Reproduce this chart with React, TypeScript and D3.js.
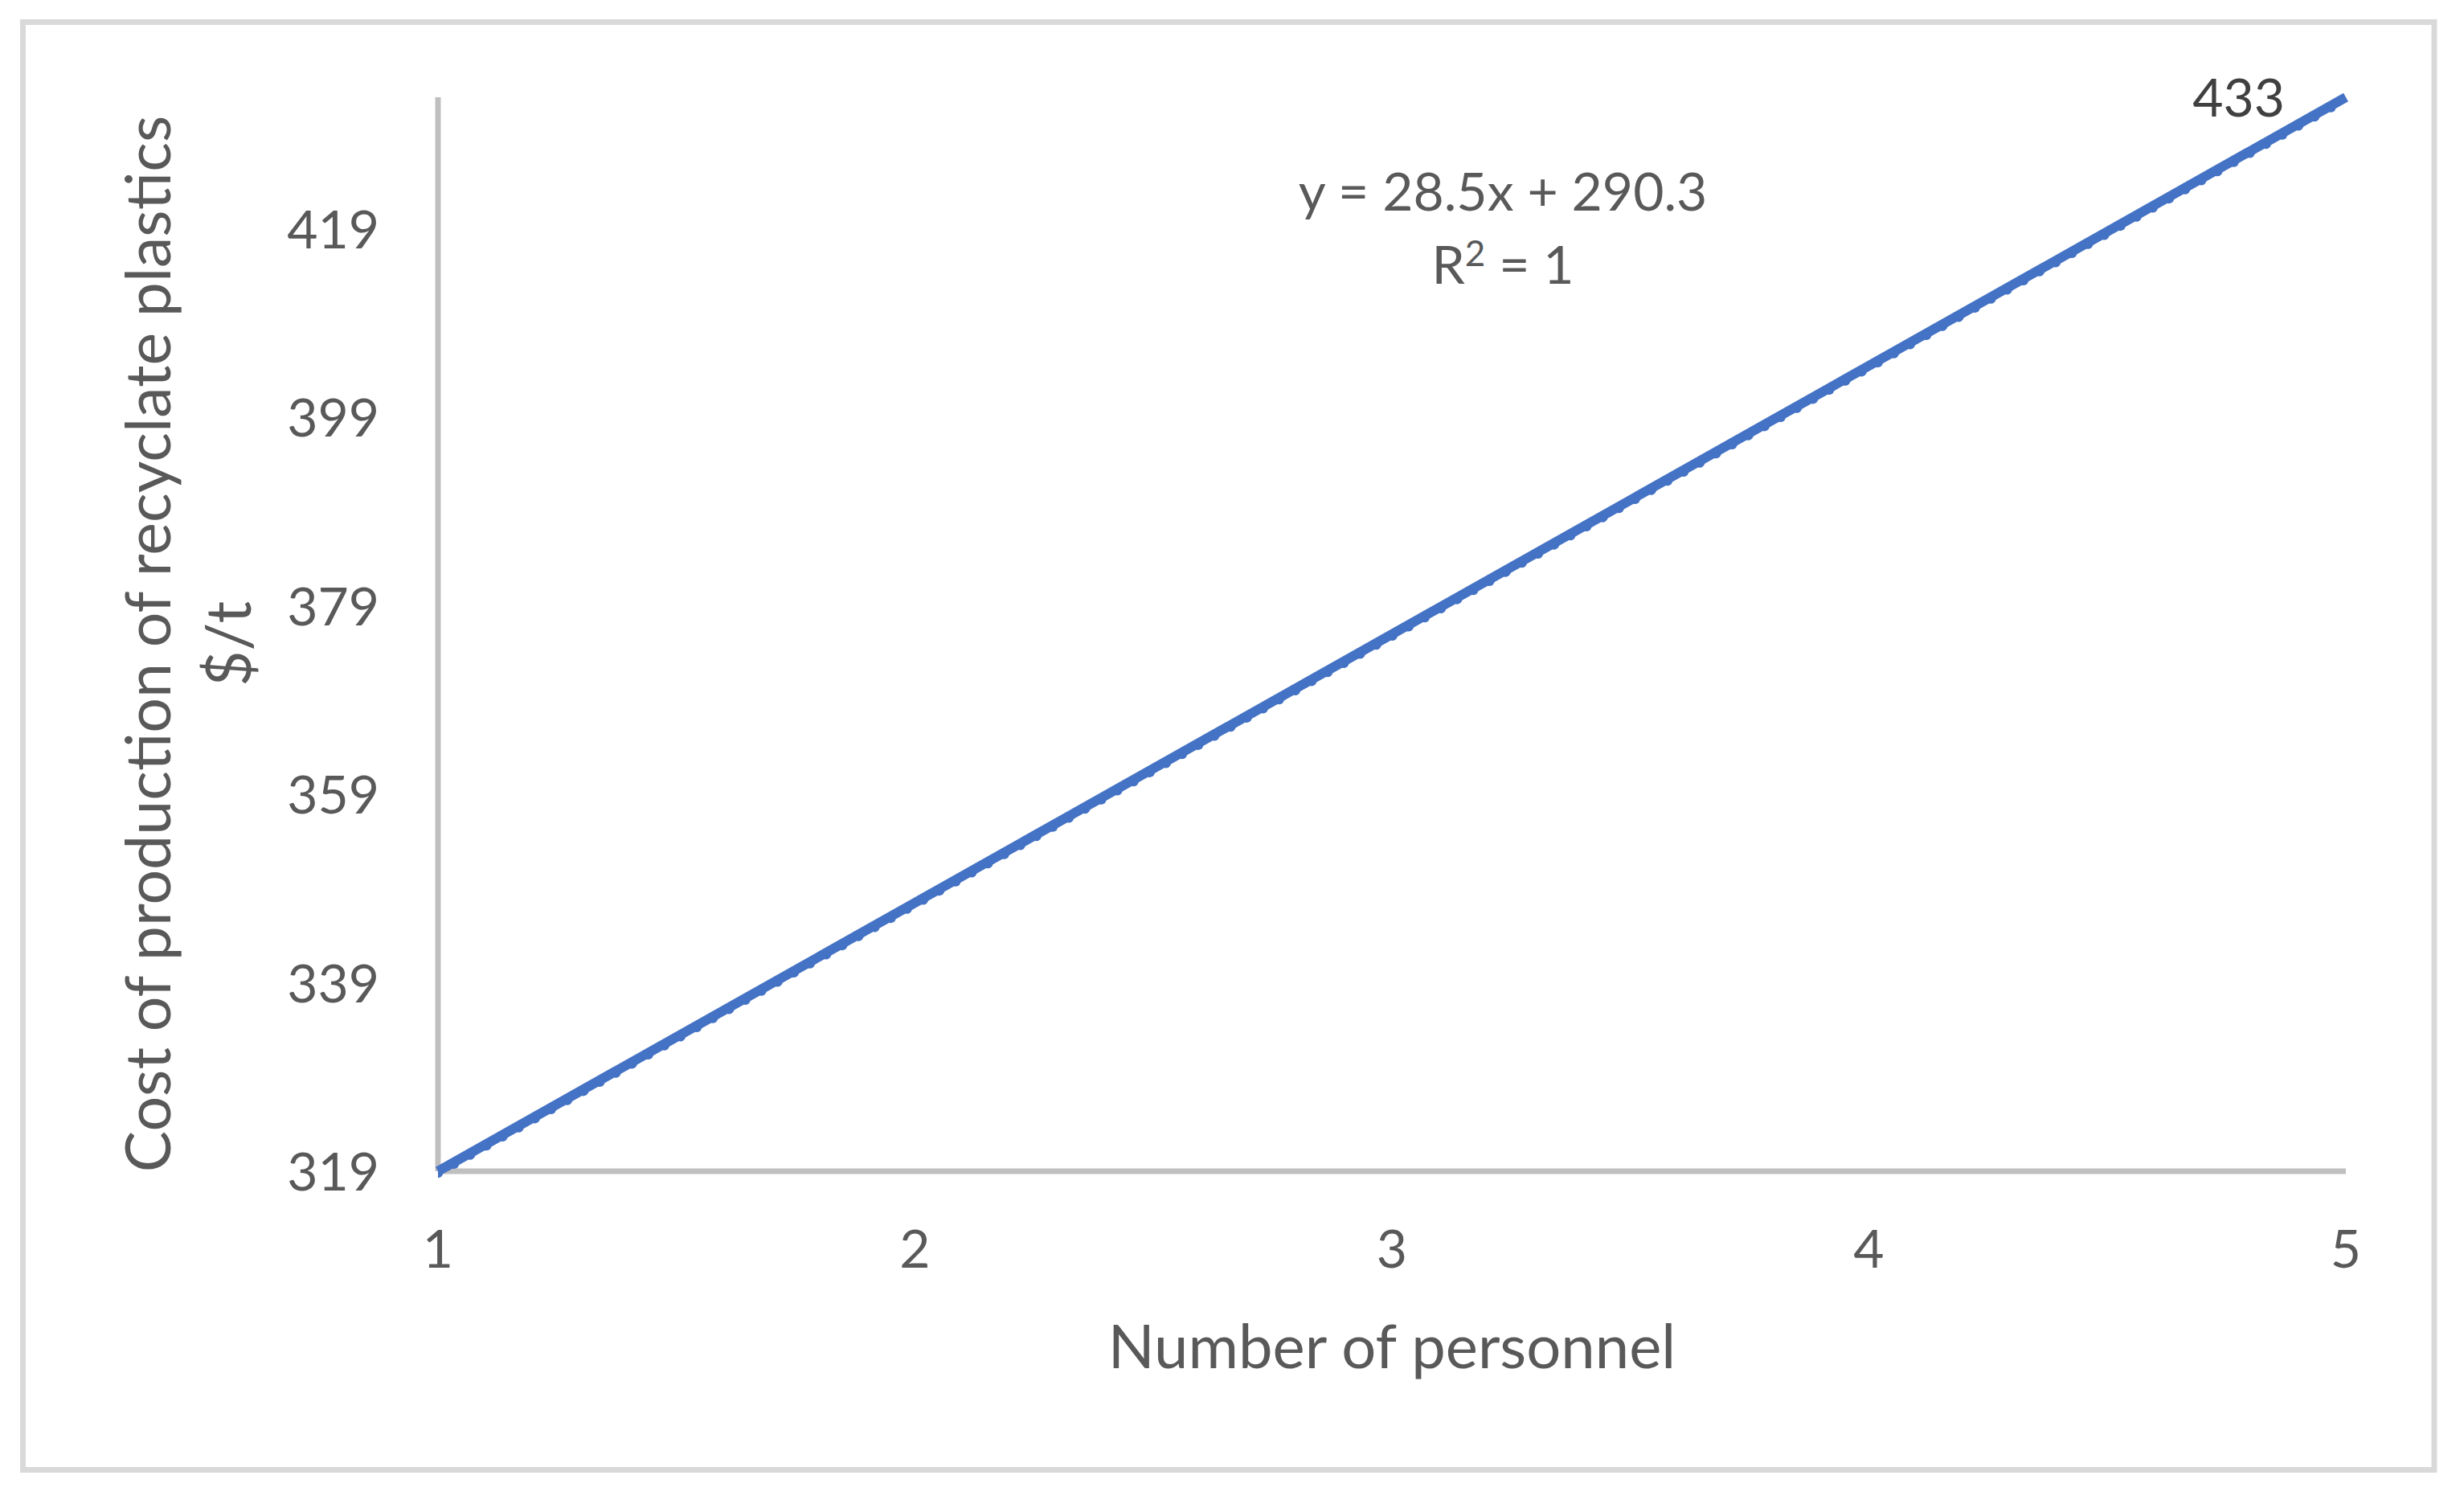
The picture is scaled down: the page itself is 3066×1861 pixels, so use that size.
import React from "react";
import * as d3 from "d3";

const xValues = [1, 2, 3, 4, 5];
const yValues = [319, 347.5, 376, 404.5, 433];
const yTicks = [319, 339, 359, 379, 399, 419];
const xTicks = [1, 2, 3, 4, 5];
const trendCoef = [28.5, 290.3];
const lastLabel = "433";
const equationText = "y = 28.5x + 290.3";
const r2Base = "R";
const r2Sup = "2";
const r2Rest = " = 1";
const yTitle1 = "Cost of production of recyclate plastics";
const yTitle2 = "$/t";
const xTitle = "Number of personnel";

const W = 3066;
const H = 1861;
const FONT = "Lato, 'Open Sans', sans-serif";

export default function App() {
  const x = d3.scaleLinear().domain([1, 5]).range([545, 2919]);
  const y = d3.scaleLinear().domain([319, 433]).range([1457, 121]);
  const pts = xValues.map((v, i) => [x(v), y(yValues[i])] as [number, number]);
  const line = d3.line();
  const trendPts = [1, 5].map((v) => [x(v), y(trendCoef[0] * v + trendCoef[1])] as [number, number]);
  const fmt = d3.format(".0f");
  const tickColor = "#595959";
  return (
    <svg width={W} height={H} style={{ position: "absolute", left: 0, top: 0, background: "#fff" }} fontFamily={FONT}>
      <rect x={0} y={0} width={W} height={H} fill="#fff" />
      <rect x={28.5} y={27.5} width={3029 - 28.5} height={1828.5 - 27.5} fill="#fff" stroke="#d9d9d9" strokeWidth={7} />
      {/* axes */}
      <line x1={x(1)} x2={x(1)} y1={y(433)} y2={y(319)} stroke="#bfbfbf" strokeWidth={7} />
      <line x1={x(1)} x2={x(5)} y1={y(319)} y2={y(319)} stroke="#bfbfbf" strokeWidth={7} />
      {/* y tick labels */}
      {yTicks.map((t) => (
        <text key={"y" + t} x={472} y={y(t) + 24} textAnchor="end" fontSize={66} fill={tickColor}>
          {fmt(t)}
        </text>
      ))}
      {xTicks.map((t) => (
        <text key={"x" + t} x={x(t)} y={1577} textAnchor="middle" fontSize={66} fill={tickColor}>
          {t}
        </text>
      ))}
      <defs>
        <clipPath id="plotclip">
          <rect x={x(1)} y={y(433) - 20} width={x(5) - x(1) + 10} height={y(319) - y(433) + 40} />
        </clipPath>
      </defs>
      {/* trendline dotted */}
      <path
        d={line(trendPts) || ""}
        fill="none"
        stroke="#4472c4"
        strokeWidth={12}
        strokeLinecap="round"
        strokeDasharray="0.1 23"
        clipPath="url(#plotclip)"
      />
      {/* data line */}
      <path d={line(pts) || ""} fill="none" stroke="#4472c4" strokeWidth={12} strokeLinejoin="round" />
      {/* data label */}
      <text x={pts[4][0] - 76} y={pts[4][1] + 24} textAnchor="end" fontSize={66} fill="#404040">
        {lastLabel}
      </text>
      {/* equation */}
      <text x={1870} y={262} textAnchor="middle" fontSize={66} fill={tickColor}>
        {equationText}
      </text>
      <text x={1870} y={353} textAnchor="middle" fontSize={66} fill={tickColor}>
        {r2Base}
        <tspan fontSize={44} dy={-22}>{r2Sup}</tspan>
        <tspan dy={22}>{r2Rest}</tspan>
      </text>
      {/* titles */}
      <text x={1732} y={1702} textAnchor="middle" fontSize={76} fill={tickColor}>
        {xTitle}
      </text>
      <text transform="translate(212,801) rotate(-90)" textAnchor="middle" fontSize={77} fill={tickColor}>
        {yTitle1}
      </text>
      <text transform="translate(312,801) rotate(-90)" textAnchor="middle" fontSize={77} fill={tickColor}>
        {yTitle2}
      </text>
    </svg>
  );
}
